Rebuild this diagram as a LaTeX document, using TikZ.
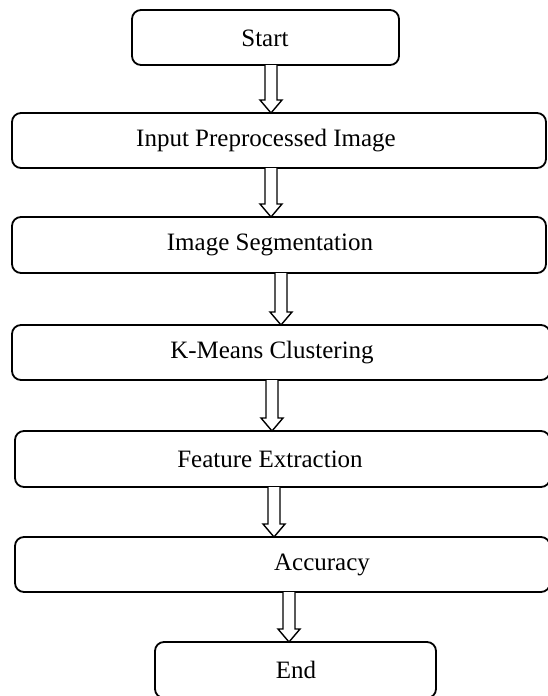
\documentclass[tikz,border=0pt]{standalone}
\usepackage{fontspec}
\setmainfont{Liberation Serif}
\usetikzlibrary{calc}

\tikzset{
  stepbox/.style={draw=black, line width=1.8pt, rounded corners=9pt,
    inner sep=0pt, outer sep=0pt},
  steplabel/.style={inner sep=0pt, font=\fontsize{25}{30}\selectfont},
  hollow/.style={draw=black, fill=white, line width=1.4pt, line join=miter}
}

% hollow block arrow from the bottom of #1 to the top of #2, along x of #3
\newcommand{\flowarrow}[3]{%
  \draw[hollow]
    ($(#3 |- #1.south)+(-6,0)$) -- ($(#3 |- #2.north)+(-6,-13)$)
    -- ($(#3 |- #2.north)+(-11,-13)$) -- (#3 |- #2.north)
    -- ($(#3 |- #2.north)+(11,-13)$) -- ($(#3 |- #2.north)+(6,-13)$)
    -- ($(#3 |- #1.south)+(6,0)$);}

\begin{document}
\begin{tikzpicture}[x=1pt, y=-1pt]
  \useasboundingbox (0,0) rectangle (548,696);

  % process boxes
  \node[stepbox, minimum width=267pt, minimum height=55pt] (start) at (265.5,37.5) {};
  \node[stepbox, minimum width=534pt, minimum height=55pt] (input) at (279,140.5) {};
  \node[stepbox, minimum width=534pt, minimum height=56pt] (seg)   at (279,245) {};
  \node[stepbox, minimum width=538pt, minimum height=55pt] (kmeans) at (281,352.5) {};
  \node[stepbox, minimum width=535pt, minimum height=56pt] (feat)  at (282.5,459) {};
  \node[stepbox, minimum width=535pt, minimum height=55pt] (acc)   at (282.5,564.5) {};
  \node[stepbox, minimum width=281pt, minimum height=56pt] (stop)  at (295.5,670) {};

  % box captions
  \node[steplabel] (tstart)  at (265,38)  {Start};
  \node[steplabel] (tinput)  at (266,141) {Input Preprocessed Image};
  \node[steplabel] (tseg)    at (270,245) {Image Segmentation};
  \node[steplabel] (tkmeans) at (272,353) {K-Means Clustering};
  \node[steplabel] (tfeat)   at (270,459) {Feature Extraction};
  \node[steplabel] (tacc)    at (322,565) {Accuracy};
  \node[steplabel] (tstop)   at (296,670) {End};

  % arrow axes
  \coordinate (a1) at (271,0);
  \coordinate (a2) at (271,0);
  \coordinate (a3) at (281,0);
  \coordinate (a4) at (272,0);
  \coordinate (a5) at (274,0);
  \coordinate (a6) at (289,0);

  \flowarrow{start}{input}{a1}
  \flowarrow{input}{seg}{a2}
  \flowarrow{seg}{kmeans}{a3}
  \flowarrow{kmeans}{feat}{a4}
  \flowarrow{feat}{acc}{a5}
  \flowarrow{acc}{stop}{a6}
\end{tikzpicture}
\end{document}
